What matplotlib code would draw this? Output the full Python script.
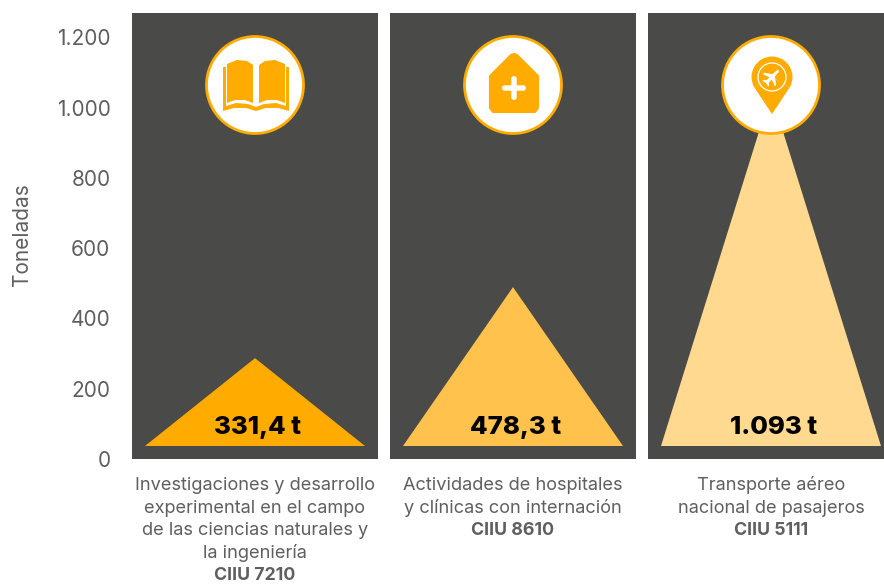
import matplotlib
matplotlib.use("Agg")
import matplotlib.pyplot as plt
from matplotlib.patches import Circle, Polygon, FancyBboxPatch, Wedge
from matplotlib.transforms import Affine2D

plt.rcParams["font.family"] = ["Inter", "Open Sans", "DejaVu Sans"]

categories = [
    ["Investigaciones y desarrollo", "experimental en el campo", "de las ciencias naturales y", "la ingeniería"],
    ["Actividades de hospitales", "y clínicas con internación"],
    ["Transporte aéreo", "nacional de pasajeros"],
]
codes = ["CIIU 7210", "CIIU 8610", "CIIU 5111"]
value_labels = ["331,4 t", "478,3 t", "1.093 t"]
# triangle peaks, the drawn shapes are not to scale with the labels
peaks = [287, 489, 1041]
base_value = 37
yticks = [0, 200, 400, 600, 800, 1000, 1200]
ytick_labels = ["0", "200", "400", "600", "800", "1.000", "1.200"]
colors = ["#FFAB00", "#FFC34D", "#FFD98F"]

ORANGE = "#FFAB00"
PANEL = "#4A4A49"
GRAY = "#5F5F5F"
W, H = 884, 584
SCALE = 258.0
PANEL_W = 246 / SCALE
TRI_W = 220 / SCALE
ICON_Y = 1064


def icon_tr(ax, i):
    cx, cy = ax.transData.transform((i, ICON_Y))
    return Affine2D().scale(1, -1).translate(cx, cy)


def draw_book(fig, tr):
    left = [(-28, -21), (-18, -25), (-8, -24), (-2, -20), (-2, 18), (-10, 15), (-20, 15), (-28, 18)]
    for sign in (1, -1):
        page = Polygon([(x * sign + (0 if sign == 1 else 2), y) for x, y in left],
                       closed=True, fc=ORANGE, ec="none", transform=tr)
        fig.add_artist(page)
        cover = Polygon([(sign * 33 + 1, -18), (sign * 30 + 1, -18), (sign * 30 + 1, 21),
                         (sign * 20 + 1, 18), (sign * 8 + 1, 19), (1, 22), (1, 26),
                         (sign * 10 + 1, 23), (sign * 22 + 1, 23), (sign * 33 + 1, 26)],
                        closed=True, fc=ORANGE, ec="none", transform=tr)
        fig.add_artist(cover)


def draw_house(fig, tr):
    verts = [(1, -31), (-2, -30), (-23, -9), (-23, 23), (-20, 27), (22, 27), (25, 23), (25, -9), (4, -30)]
    fig.add_artist(Polygon(verts, closed=True, fc=ORANGE, ec=ORANGE, lw=1.5, joinstyle="round", transform=tr))
    fig.add_artist(FancyBboxPatch((-11, 0.3), 24, 5.4, boxstyle="round,pad=0,rounding_size=2.7", fc="white", ec="none", transform=tr))
    fig.add_artist(FancyBboxPatch((-1.7, -9), 5.4, 24, boxstyle="round,pad=0,rounding_size=2.7", fc="white", ec="none", transform=tr))


def draw_pin(fig, tr):
    fig.add_artist(Wedge((1, -8), 20.5, 150, 30, fc=ORANGE, ec="none", transform=tr))
    fig.add_artist(Polygon([(1, -8), (-16.75, 2.25), (1, 29), (18.75, 2.25)], closed=True, fc=ORANGE, ec="none", transform=tr))
    fig.add_artist(Circle((1, -8), 14, fc="none", ec="white", lw=0.9, transform=tr))
    # plane drawn nose along +x, then turned to point up and right
    top = [(10, 0), (8, -1.3), (2.5, -1.6), (-2.5, -8.5), (-4.5, -8.5), (-2, -1.6), (-6, -1.6), (-8, -4), (-9.5, -4), (-8.5, 0)]
    plane = top + [(x, -y) for x, y in top[-2:0:-1]]
    plane_tr = Affine2D().rotate_deg(-45).translate(1, -8) + tr
    fig.add_artist(Polygon(plane, closed=True, fc="white", ec="none", transform=plane_tr))


fig = plt.figure(figsize=(W / 100, H / 100), dpi=100)
ax = fig.add_axes([132 / W, (H - 459) / H, (W - 132) / W, 446 / H])
ax.set_xlim(-123 / SCALE, (884 - 255) / SCALE)
ax.set_ylim(0, 446 / 0.3515)

for i, peak in enumerate(peaks):
    ax.bar(i, ax.get_ylim()[1], width=PANEL_W, color=PANEL, zorder=1)
    ax.fill([i - TRI_W / 2, i, i + TRI_W / 2], [base_value, peak, base_value], color=colors[i], lw=0, zorder=2)
    ax.text(i + 0.008, 90, value_labels[i], ha="center", va="center", fontsize=18.5,
            fontweight="heavy", color="black", zorder=3)

ax.set_yticks(yticks)
ax.set_yticklabels(ytick_labels, fontsize=15, color=GRAY)
ax.tick_params(axis="y", length=0, pad=15.5)
ax.set_xticks([])
for s in ax.spines.values():
    s.set_visible(False)
fig.text(22 / W, 1 - 235 / H, "Toneladas", rotation=90, ha="center", va="center", fontsize=15, color=GRAY)

# category text under each panel, last line in bold
LINE = 22.6
for i, lines in enumerate(categories):
    x = ax.transData.transform((i, 0))[0]
    for j, line in enumerate(lines):
        fig.text(x / W, 1 - (485.5 + j * LINE) / H, line, ha="center", va="center", fontsize=13.1, color=GRAY)
    fig.text(x / W, 1 - (485.5 + len(lines) * LINE) / H, codes[i], ha="center", va="center", fontsize=12.8, color=GRAY, fontweight="bold")

fig.canvas.draw()
for i, draw in enumerate([draw_book, draw_house, draw_pin]):
    tr = icon_tr(ax, i)
    fig.add_artist(Circle((0, 0), 48.5, fc="white", ec=ORANGE, lw=2, transform=tr, zorder=5))
    n = len(fig.artists)
    draw(fig, tr)
    for a in fig.artists[n:]:
        a.set_zorder(6)

fig.savefig("out.png", dpi=100)
plt.close(fig)
